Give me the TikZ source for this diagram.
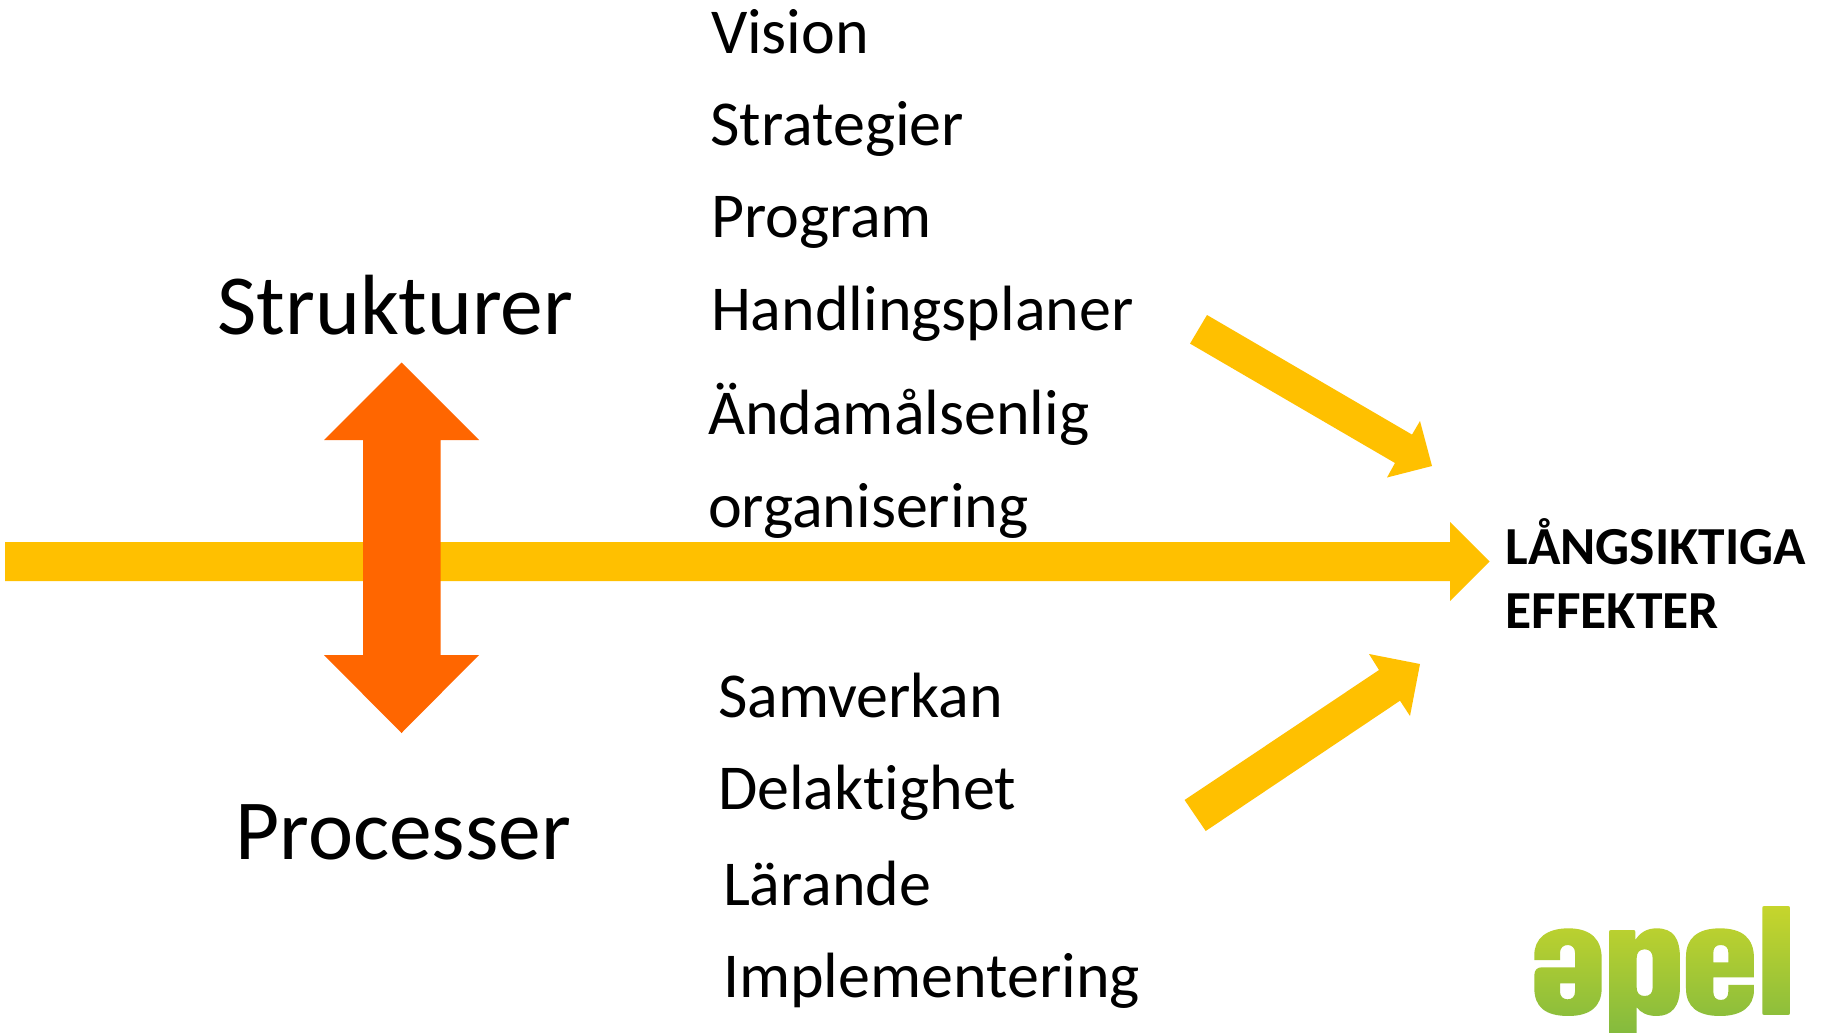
\documentclass[tikz,border=0pt]{standalone}
\usepackage{fontspec}
\setmainfont[Ligatures=NoCommon]{Carlito}
\definecolor{amber}{HTML}{FFC000}
\definecolor{flame}{HTML}{FF6600}
\definecolor{logotop}{HTML}{C6D52C}
\definecolor{logobot}{HTML}{84BB3E}
\tikzset{
  lbl/.style={anchor=base west,inner sep=0pt,outer sep=0pt,text=black,font=\fontsize{64}{64}\selectfont},
  big/.style={lbl,font=\fontsize{85.5}{85.5}\selectfont},
  res/.style={lbl,font=\fontsize{53.5}{53.5}\selectfont\bfseries},
  yarrow/.style={fill=amber,draw=none},
  oarrow/.style={fill=flame,draw=none}
}
\begin{document}
\begin{tikzpicture}[x=1pt,y=-1pt]
\useasboundingbox (0,0) rectangle (1824,1033);
\fill[white] (0,0) rectangle (1824,1033);
% block arrows
\path[yarrow] (5,542) -- (1450,542) -- (1450,522) -- (1489.5,561.5) -- (1450,601) -- (1450,581) -- (5,581) -- cycle;
\path[oarrow] (401.5,362.5) -- (479,440) -- (440.5,440) -- (440.5,655) -- (479,655) -- (401.5,733) -- (324,655) -- (363,655) -- (363,440) -- (324,440) -- cycle;
\path[yarrow] (1207,315) -- (1412,434.6) -- (1420,421) -- (1432,466) -- (1387,477.5) -- (1395,463) -- (1190,343.6) -- cycle;
\path[yarrow] (1184.6,800) -- (1379,670) -- (1369,654) -- (1420,664) -- (1410,716) -- (1400,700.7) -- (1205.7,831) -- cycle;
% labels
\node[lbl] (vision) at (711,53.5) {Vision};
\node[lbl] (strategier) at (710.5,145.5) {Strategier};
\node[lbl] (program) at (711,237.5) {Program};
\node[lbl] (handling) at (711,330) {Handlingsplaner};
\node[lbl] (andamal) at (708,434.5) {Ändamålsenlig};
\node[lbl] (organisering) at (708,527) {organisering};
\node[lbl] (samverkan) at (718,717) {Samverkan};
\node[lbl] (delaktighet) at (718,809) {Delaktighet};
\node[lbl] (larande) at (723,905) {Lärande};
\node[lbl] (implementering) at (723,997.5) {Implementering};
\node[big] (strukturer) at (217.5,334) {Strukturer};
\node[big] (processer) at (235.5,859) {Processer};
\node[res] (lang) at (1505.5,564) {LÅNGSIKTIGA};
\node[res] (effekter) at (1505.5,628) {EFFEKTER};
% logo
\begin{scope}[shift={(1500,880)},x=0.3333pt,y=-0.3333pt]
\shade[even odd rule,top color=logotop,bottom color=logobot,draw=none]
 % schwa
 (205,145) .. controls (275,145) and (305,180) .. (305,235) -- (305,325)
   .. controls (305,380) and (270,408) .. (205,408)
   .. controls (135,408) and (103,380) .. (103,325) -- (103,285)
   .. controls (103,270) and (112,262) .. (125,262) -- (225,262) -- (225,218)
   .. controls (225,204) and (216,195) .. (203,195)
   .. controls (190,195) and (180,204) .. (180,218) -- (180,240) -- (103,240) -- (103,225)
   .. controls (103,175) and (140,145) .. (205,145) -- cycle
 (180,310) -- (225,310) -- (225,335)
   .. controls (225,350) and (216,358) .. (203,358)
   .. controls (190,358) and (180,350) .. (180,335) -- cycle
 % p
 (333,150) -- (400,150) .. controls (404,150) and (406,152) .. (406,156) -- (406,180)
   .. controls (420,158) and (440,145) .. (470,145)
   .. controls (520,145) and (540,175) .. (540,235) -- (540,320)
   .. controls (540,380) and (515,408) .. (470,408)
   .. controls (442,408) and (422,398) .. (410,382) -- (410,459) -- (327,459) -- (327,156)
   .. controls (327,152) and (329,150) .. (333,150) -- cycle
 (410,235) .. controls (410,218) and (418,208) .. (434,208)
   .. controls (450,208) and (458,218) .. (458,235) -- (458,322)
   .. controls (458,339) and (450,348) .. (434,348)
   .. controls (418,348) and (410,339) .. (410,322) -- cycle
 % e
 (660,145) .. controls (728,145) and (762,175) .. (762,235) -- (762,292) -- (640,292) -- (640,335)
   .. controls (640,351) and (648,360) .. (662,360)
   .. controls (677,360) and (685,351) .. (685,335) -- (685,315) -- (762,315) -- (762,330)
   .. controls (762,380) and (725,408) .. (660,408)
   .. controls (592,408) and (558,380) .. (558,325) -- (558,230)
   .. controls (558,175) and (592,145) .. (660,145) -- cycle
 (640,247) -- (685,247) -- (685,218)
   .. controls (685,203) and (677,195) .. (662,195)
   .. controls (648,195) and (640,203) .. (640,218) -- cycle
 % l
 (793,78) -- (864,78) .. controls (868,78) and (870,80) .. (870,84) -- (870,399)
   .. controls (870,403) and (868,405) .. (864,405) -- (793,405)
   .. controls (789,405) and (787,403) .. (787,399) -- (787,84)
   .. controls (787,80) and (789,78) .. (793,78) -- cycle;
\end{scope}
\end{tikzpicture}
\end{document}
